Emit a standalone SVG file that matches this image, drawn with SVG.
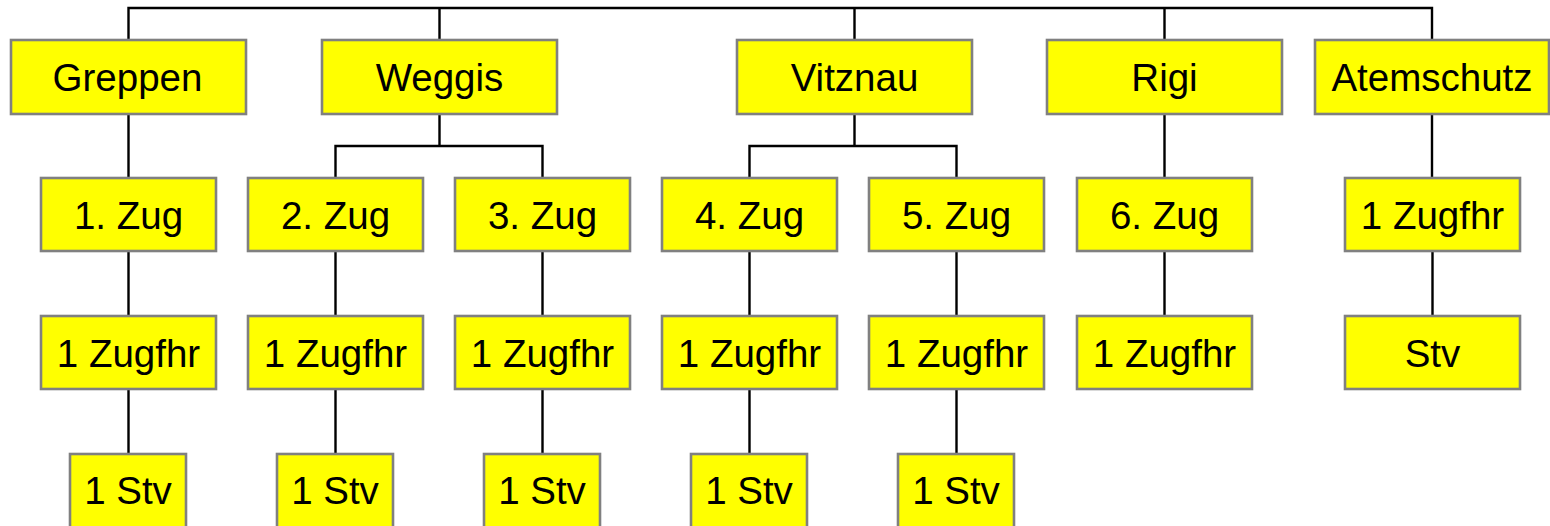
<svg xmlns="http://www.w3.org/2000/svg" width="1550" height="526" viewBox="0 0 1550 526">
<style>
.box{fill:#ffff00;stroke:#808080;stroke-width:2.6}
.lbl{font-family:"Liberation Sans",Arial,sans-serif;font-size:38.5px;fill:#000;text-anchor:middle}
.con{stroke:#000;stroke-width:2.4;fill:none}
</style>
<rect width="1550" height="526" fill="#fff"/>
<g id="connectors" class="con">
<path d="M128.5 40V8H1432V40M439.5 8V40M854.5 8V40M1164.5 8V40"/>
<path d="M128.5 114V178M439.5 114V146M335.5 178V146H542.5V178M854.5 114V146M749.5 178V146H956.5V178M1164.5 114V178M1432 114V178"/>
<path d="M128.5 251V316M335.5 251V316M542.5 251V316M749.5 251V316M956.5 251V316M1164.5 251V316M1432.5 251V316"/>
<path d="M128.5 389V454M335.5 389V454M542.5 389V454M749.5 389V454M956.5 389V454"/>
</g>
<g id="greppen"><rect class="box" x="11" y="40" width="235" height="74"/><text class="lbl" x="127.5" y="91">Greppen</text></g>
<g id="weggis"><rect class="box" x="322" y="40" width="235" height="74"/><text class="lbl" x="439.5" y="91">Weggis</text></g>
<g id="vitznau"><rect class="box" x="737" y="40" width="235" height="74"/><text class="lbl" x="854.5" y="91">Vitznau</text></g>
<g id="rigi"><rect class="box" x="1047" y="40" width="235" height="74"/><text class="lbl" x="1164.5" y="91">Rigi</text></g>
<g id="atemschutz"><rect class="box" x="1315" y="40" width="234" height="74"/><text class="lbl" x="1432" y="91">Atemschutz</text></g>

<g id="zug1"><rect class="box" x="41" y="178" width="175" height="73"/><text class="lbl" x="128.5" y="228.5">1. Zug</text></g>
<g id="zug2"><rect class="box" x="248" y="178" width="175" height="73"/><text class="lbl" x="335.5" y="228.5">2. Zug</text></g>
<g id="zug3"><rect class="box" x="455" y="178" width="175" height="73"/><text class="lbl" x="542.5" y="228.5">3. Zug</text></g>
<g id="zug4"><rect class="box" x="662" y="178" width="175" height="73"/><text class="lbl" x="749.5" y="228.5">4. Zug</text></g>
<g id="zug5"><rect class="box" x="869" y="178" width="175" height="73"/><text class="lbl" x="956.5" y="228.5">5. Zug</text></g>
<g id="zug6"><rect class="box" x="1077" y="178" width="175" height="73"/><text class="lbl" x="1164.5" y="228.5">6. Zug</text></g>
<g id="atem-zugfhr"><rect class="box" x="1345" y="178" width="175" height="73"/><text class="lbl" x="1432.5" y="228.5">1 Zugfhr</text></g>

<g id="zugfhr1"><rect class="box" x="41" y="316" width="175" height="73"/><text class="lbl" x="128.5" y="366.5">1 Zugfhr</text></g>
<g id="zugfhr2"><rect class="box" x="248" y="316" width="175" height="73"/><text class="lbl" x="335.5" y="366.5">1 Zugfhr</text></g>
<g id="zugfhr3"><rect class="box" x="455" y="316" width="175" height="73"/><text class="lbl" x="542.5" y="366.5">1 Zugfhr</text></g>
<g id="zugfhr4"><rect class="box" x="662" y="316" width="175" height="73"/><text class="lbl" x="749.5" y="366.5">1 Zugfhr</text></g>
<g id="zugfhr5"><rect class="box" x="869" y="316" width="175" height="73"/><text class="lbl" x="956.5" y="366.5">1 Zugfhr</text></g>
<g id="zugfhr6"><rect class="box" x="1077" y="316" width="175" height="73"/><text class="lbl" x="1164.5" y="366.5">1 Zugfhr</text></g>
<g id="atem-stv"><rect class="box" x="1345" y="316" width="175" height="73"/><text class="lbl" x="1432.5" y="366.5">Stv</text></g>

<g id="stv1"><rect class="box" x="70" y="454" width="116" height="74"/><text class="lbl" x="128" y="503.5">1 Stv</text></g>
<g id="stv2"><rect class="box" x="277" y="454" width="116" height="74"/><text class="lbl" x="335" y="503.5">1 Stv</text></g>
<g id="stv3"><rect class="box" x="484" y="454" width="116" height="74"/><text class="lbl" x="542" y="503.5">1 Stv</text></g>
<g id="stv4"><rect class="box" x="691" y="454" width="116" height="74"/><text class="lbl" x="749" y="503.5">1 Stv</text></g>
<g id="stv5"><rect class="box" x="898" y="454" width="116" height="74"/><text class="lbl" x="956" y="503.5">1 Stv</text></g>
</svg>
